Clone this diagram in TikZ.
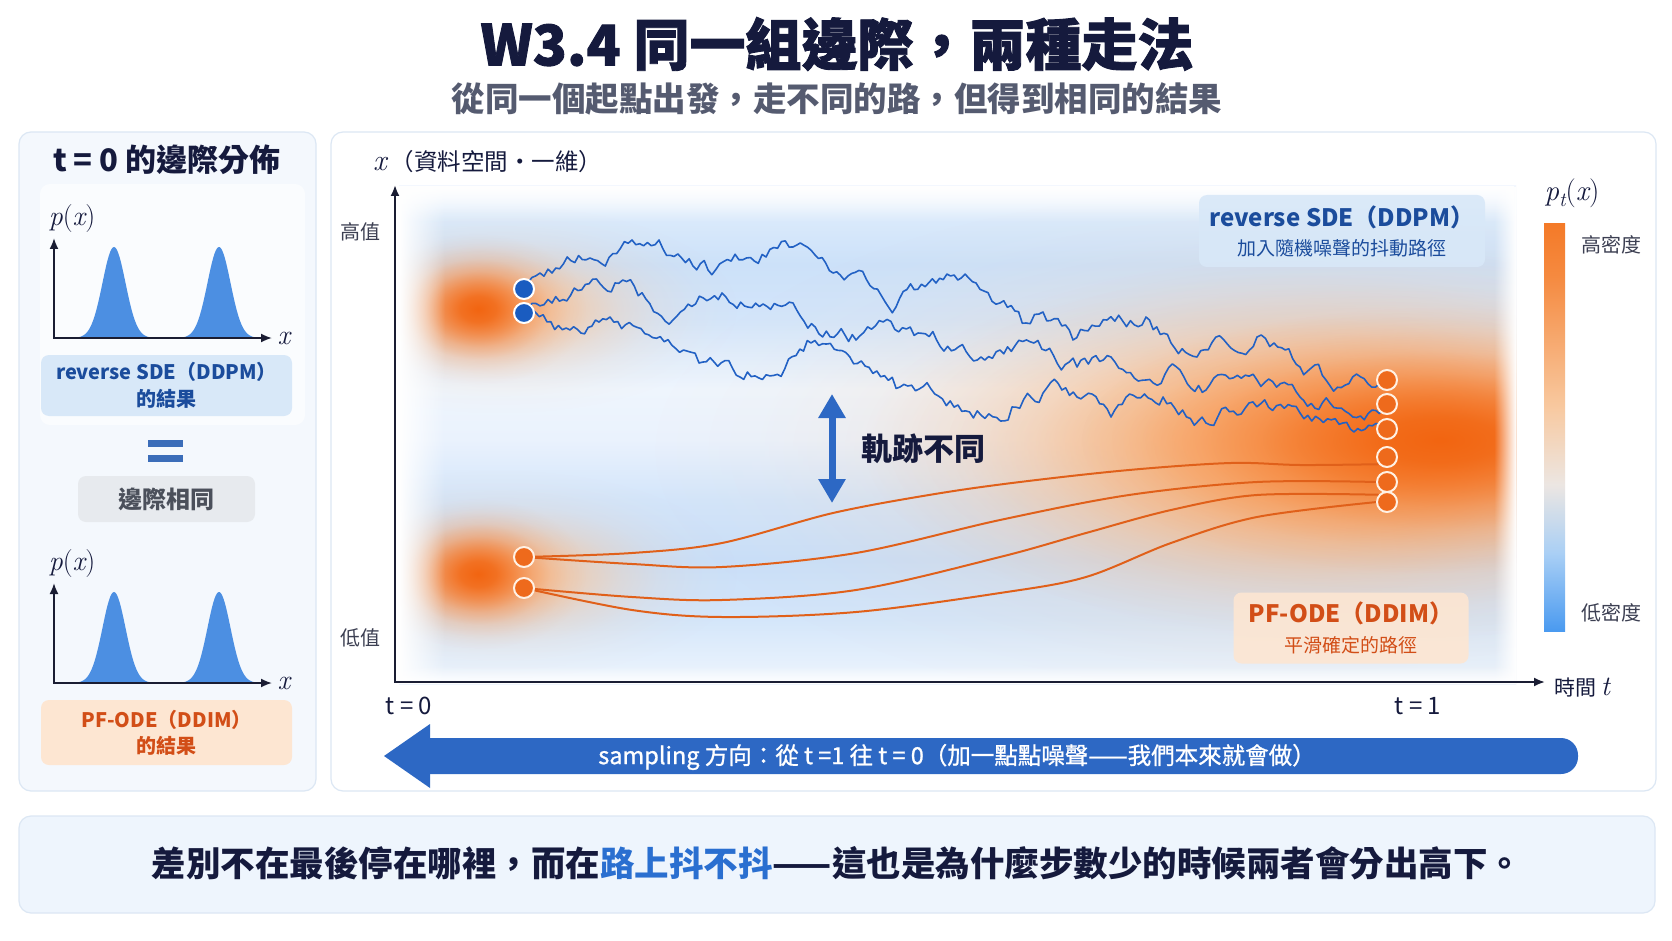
\RequirePackage{fix-cm}
\documentclass[tikz,border=0pt]{standalone}
\usepackage{fontspec}
\setmainfont{Noto Sans CJK TC}
\newfontfamily\lmr{Latin Modern Roman}
\newfontfamily\heavyfont{Noto Sans CJK TC}[BoldFeatures={FakeBold=1.6}]
\newfontfamily\medfont{Noto Sans CJK TC}[FakeBold=1]
\usetikzlibrary{arrows.meta,fadings}

\definecolor{navy}{HTML}{151A3D}
\definecolor{subgray}{HTML}{555B70}
\definecolor{sdeblue}{HTML}{2261C4}
\definecolor{odeor}{HTML}{E0601A}
\definecolor{dotblue}{HTML}{1A5CC0}
\definecolor{dotor}{HTML}{EE6A1C}
\definecolor{dotring}{HTML}{FFF1E4}
\definecolor{lblbluefill}{HTML}{D8E8F8}
\definecolor{lblbluetext}{HTML}{1B4C9C}
\definecolor{lblorfill}{HTML}{FDE6D2}
\definecolor{lblortext}{HTML}{D24E17}
\definecolor{panelfill}{HTML}{F4F8FD}
\definecolor{panelline}{HTML}{DCE7F4}
\definecolor{peakblue}{HTML}{4C8FE2}
\definecolor{arrowblue}{HTML}{2D68C4}
\definecolor{eqblue}{HTML}{3B6DB9}
\definecolor{grayfill}{HTML}{E7EAEE}
\definecolor{graytext}{HTML}{4B505B}
\definecolor{axiscol}{HTML}{1A1D33}
\definecolor{hlblue}{HTML}{2A6FD0}
\definecolor{botfill}{HTML}{EEF5FD}
\definecolor{pch}{HTML}{FBC699}
\definecolor{orm}{HTML}{F89B55}
\definecolor{orc}{HTML}{F26511}
% heat background
\definecolor{hb0}{HTML}{EEF5FD}
\definecolor{hb1}{HTML}{D4E6FA}
\definecolor{hb2}{HTML}{C9DFF9}
\definecolor{hb3}{HTML}{D3E5FA}
\definecolor{hb4}{HTML}{EAF2FD}
\definecolor{hb5}{HTML}{EEF5FD}
\definecolor{hb6}{HTML}{D3E5FA}
\definecolor{hb7}{HTML}{CCE1F9}
\definecolor{hb8}{HTML}{DCEBFB}
\definecolor{hb9}{HTML}{F2F7FE}
% colorbar
\definecolor{cb0}{HTML}{4A9AF0}
\definecolor{cb1}{HTML}{A9CFF5}
\definecolor{cb2}{HTML}{ECE6E2}
\definecolor{cb3}{HTML}{F8C9A0}
\definecolor{cb4}{HTML}{F58A40}
\definecolor{cb5}{HTML}{F47A28}

\pgfdeclareverticalshading{heatbg}{100bp}{color(0bp)=(hb0); color(25bp)=(hb0); color(31.5bp)=(hb1); color(37.5bp)=(hb2); color(43.5bp)=(hb3); color(49.6bp)=(hb4); color(54.6bp)=(hb5); color(61.7bp)=(hb6); color(67.2bp)=(hb7); color(72.3bp)=(hb8); color(75bp)=(hb9); color(100bp)=(hb9)}
\pgfdeclareverticalshading{cbar}{100bp}{color(0bp)=(cb0); color(25bp)=(cb0); color(34.5bp)=(cb1); color(43bp)=(cb2); color(52.5bp)=(cb3); color(68.5bp)=(cb4); color(75bp)=(cb5); color(100bp)=(cb5)}
\pgfdeclareradialshading{glowsh}{\pgfpointorigin}{color(0bp)=(white); color(3bp)=(white!88!black); color(6bp)=(white!61!black); color(9bp)=(white!32!black); color(12bp)=(white!13!black); color(15bp)=(white!4!black); color(18bp)=(black); color(50bp)=(black)}
\pgfdeclarefading{glow}{\pgfuseshading{glowsh}}
\tikzfading[name=fadeR, left color=transparent!0, right color=transparent!100]
\tikzfading[name=fadeL, right color=transparent!0, left color=transparent!100]
\tikzfading[name=fadeD, top color=transparent!0, bottom color=transparent!100]
\tikzfading[name=fadeU, bottom color=transparent!0, top color=transparent!100]

\makeatletter
\newcommand\mkwalk[3]{%
  \pgfmathsetseed{#2}%
  \global\let\wk@list\@empty
  \gdef\wk@first{1}%
  \foreach \xa/\ya in {#3}{%
    \if1\wk@first
      \xdef\wk@x{\xa}\xdef\wk@y{\ya}%
      \xdef\wk@list{(\xa,\ya)}%
      \gdef\wk@first{0}%
    \else
      \pgfmathtruncatemacro\wk@n{max(1,round((\xa-\wk@x)/3.8))}%
      \pgfmathsetmacro\wk@dx{(\xa-\wk@x)/\wk@n}%
      \xdef\wk@ty{\ya}\xdef\wk@N{\wk@n}\xdef\wk@DX{\wk@dx}%
      \foreach \k in {1,...,\wk@N}{%
        \pgfmathsetmacro\wk@nx{\wk@x+\wk@DX}%
        \pgfmathsetmacro\wk@ny{\wk@y+(\wk@ty-\wk@y)/(\wk@N-\k+1)+(\k<\wk@N)*rand*6.5}%
        \xdef\wk@x{\wk@nx}\xdef\wk@y{\wk@ny}%
        \xdef\wk@list{\wk@list (\wk@x,\wk@y)}%
      }%
    \fi
  }%
  \global\let#1\wk@list
}
\makeatother
\newcommand\mi[1]{{\lmr\itshape #1}}

\begin{document}
\begin{tikzpicture}[x=1pt,y=-1pt,
  every node/.style={inner sep=0pt},
  panel/.style={draw=panelline, line width=1.2, fill=panelfill, rounded corners=12},
  mainpanel/.style={draw=panelline, line width=1.2, fill=white, rounded corners=12},
  axisline/.style={draw=axiscol, line width=1.8},
  axtips/.style={{Latex[length=11pt,width=9pt]}-{Latex[length=11pt,width=9pt]}},
  mathlbl/.style={font=\fontsize{28}{30}\selectfont\lmr, text=navy},
  smalllbl/.style={font=\fontsize{20}{24}\selectfont, text=axiscol!85},
  lblblue/.style={fill=lblbluefill, text=lblbluetext, rounded corners=8, align=center},
  lblor/.style={fill=lblorfill, text=lblortext, rounded corners=8, align=center},
  sde/.style={draw=sdeblue, line width=1.6, line join=round},
  ode/.style={draw=odeor, line width=2, line cap=round},
  dotpos/.style={circle, minimum size=20},
  glowfill/.style={path fading=glow}
]
\useasboundingbox[fill=white] (0,0) rectangle (1672,941);

% ---------- title ----------
\node[font=\fontsize{56}{60}\selectfont\heavyfont\bfseries, text=navy] (title) at (837,44) {W3.4 同一組邊際，兩種走法};
\node[font=\fontsize{33.5}{38}\selectfont\bfseries, text=subgray] (subtitle) at (837,99) {從同一個起點出發，走不同的路，但得到相同的結果};

% ---------- left panel ----------
\path[panel] (19,132) rectangle (316,791);
\fill[white, opacity=0.6, rounded corners=10] (40,184) rectangle (305,425);
\node[font=\fontsize{31}{34}\selectfont\bfseries, text=navy] (ltitle) at (167,160) {t = 0 的邊際分佈};

% plot 1
\fill[peakblue] (56,338) -- plot[domain=56:266,samples=160] (\x,{338-91*exp(-0.5*((\x-114)/11.5)^2)-91*exp(-0.5*((\x-219)/11.5)^2)}) -- (266,338) -- cycle;
\coordinate (a1o) at (54,338); \coordinate (a1y) at (54,238); \coordinate (a1x) at (272,338);
\draw[axisline, axtips] (a1y) -- (a1o) -- (a1x);
\node[mathlbl] (p1) at (72,219) {\mi{p}(\mi{x})};
\node[mathlbl] (x1) at (284,338) {\mi{x}};
\node[lblblue, minimum width=251, minimum height=61, font=\fontsize{20}{27}\selectfont\bfseries] (lsde) at (166.5,385.5) {reverse SDE（DDPM）\\的結果};

% equals
\fill[eqblue] (148,440) rectangle (183,446.5);
\fill[eqblue] (148,455) rectangle (183,461.5);
\node[fill=grayfill, rounded corners=8, minimum width=177, minimum height=46, font=\fontsize{24}{28}\selectfont\bfseries, text=graytext] (same) at (166.5,499) {邊際相同};

% plot 2
\fill[peakblue] (56,683) -- plot[domain=56:266,samples=160] (\x,{683-91*exp(-0.5*((\x-114)/11.5)^2)-91*exp(-0.5*((\x-219)/11.5)^2)}) -- (266,683) -- cycle;
\coordinate (a2o) at (54,683); \coordinate (a2y) at (54,583); \coordinate (a2x) at (272,683);
\draw[axisline, axtips] (a2y) -- (a2o) -- (a2x);
\node[mathlbl] (p2) at (72,564) {\mi{p}(\mi{x})};
\node[mathlbl] (x2) at (284,683) {\mi{x}};
\node[lblor, minimum width=251, minimum height=65, font=\fontsize{20}{26}\selectfont\bfseries] (lode) at (166.5,732.5) {PF-ODE（DDIM）\\的結果};

% ---------- main panel ----------
\path[mainpanel] (331,132) rectangle (1656,791);

\begin{scope}
  \clip (399,186) rectangle (1516,684);
  \shade[shading=heatbg] (399,186) rectangle (1516,684);
  % right glows
  \fill[pch, glowfill] (1300,450) ellipse (900 and 370);
  \fill[orm, glowfill] (1380,445) ellipse (720 and 270);
  \fill[orc, glowfill] (1440,440) ellipse (500 and 185);
  % left glows
  \fill[pch, glowfill] (500,309) ellipse (330 and 145);
  \fill[orc, glowfill] (478,309) ellipse (150 and 105);
  \fill[pch, glowfill] (500,574) ellipse (330 and 145);
  \fill[orc, glowfill] (478,574) ellipse (150 and 105);
  % soft edges
  \fill[white, path fading=fadeR] (399,186) rectangle (445,684);
  \fill[white, path fading=fadeD] (399,186) rectangle (1516,222);
  \fill[white, path fading=fadeL] (1494,186) rectangle (1516,684);
  \fill[white, path fading=fadeU] (399,666) rectangle (1516,684);
\end{scope}

% labels in plot
\node[lblblue, fill opacity=0.9, text opacity=1, minimum width=286, minimum height=72, font=\fontsize{19}{29}\selectfont] (sdel) at (1342,231) {{\fontsize{24}{29}\selectfont\bfseries reverse SDE（DDPM）}\\加入隨機噪聲的抖動路徑};
\node[lblor, fill opacity=0.9, text opacity=1, minimum width=235, minimum height=71, font=\fontsize{19}{30}\selectfont] (odel) at (1351,628) {{\fontsize{24}{30}\selectfont\bfseries PF-ODE（DDIM）}\\平滑確定的路徑};

% dot positions
\node[dotpos] (s1) at (524,289) {};
\node[dotpos] (s2) at (524,313) {};
\node[dotpos] (o1) at (524,557) {};
\node[dotpos] (o2) at (524,588) {};
\node[dotpos] (e1) at (1387,380) {};
\node[dotpos] (e2) at (1387,404) {};
\node[dotpos] (e3) at (1387,429) {};
\node[dotpos] (e4) at (1387,457) {};
\node[dotpos] (e5) at (1387,482) {};
\node[dotpos] (e6) at (1387,502) {};

% SDE paths
\mkwalk{\walkA}{101}{524/289,552/273,590/258,632/240,659/240,708/270,766/257,793/247,833/273,896/307,936/283,976/283,1000/303,1026/323,1043/312,1073/340,1107/320,1146/317,1171/343,1197/357,1257/337,1274/343,1300/367,1326/380,1387/380}
\mkwalk{\walkB}{202}{524/313,552/303,615/283,673/320,722/293,793/303,856/340,918/333,981/357,1000/350,1034/343,1077/367,1111/357,1146/380,1180/370,1206/390,1257/380,1300/397,1330/403,1387/404}
\mkwalk{\walkC}{303}{524/313,570/330,610/317,699/363,740/377,811/343,900/387,1012/407,1043/393,1077/397,1111/417,1163/397,1206/423,1249/403,1300/413,1343/423,1387/429}
\edef\drawwalks{\noexpand\draw[sde] plot coordinates {\walkA}; \noexpand\draw[sde] plot coordinates {\walkB}; \noexpand\draw[sde] plot coordinates {\walkC};}
\drawwalks

% ODE paths
\draw[ode] plot[smooth, tension=0.55] coordinates {(o1.center) (632,553) (722,543) (833,513) (935,494) (1020,482) (1129,470) (1231,463) (1300,465) (e4.south west)};
\draw[ode] plot[smooth, tension=0.55] coordinates {(o1.center) (632,564) (722,567) (856,553) (1000,520) (1129,495) (1257,482) (e5.west)};
\draw[ode] plot[smooth, tension=0.55] coordinates {(o2.center) (632,597) (722,600) (856,590) (1000,557) (1086,533) (1171,510) (1257,495) (e6.north west)};
\draw[ode] plot[smooth, tension=0.55] coordinates {(o2.center) (632,610) (722,617) (856,612) (1000,593) (1086,577) (1171,543) (1257,517) (e6.west)};

% dots on top
\foreach \n in {s1,s2}{
  \fill[dotblue] (\n.center) circle (9.6);
  \draw[white, line width=2] (\n.center) circle (10);
}
\foreach \n in {o1,o2,e1,e2,e3,e4,e5,e6}{
  \fill[dotor] (\n.center) circle (9.6);
  \draw[dotring, line width=2] (\n.center) circle (10);
}

% double arrow
\coordinate (dtop) at (832,394);
\coordinate (dbot) at (832,503);
\draw[arrowblue, line width=7, {Triangle[length=24pt,width=26pt]}-{Triangle[length=24pt,width=26pt]}] (dtop) -- (dbot);
\node[font=\fontsize{31}{34}\selectfont\bfseries, text=navy] (diff) at (923,449) {軌跡不同};

% axes
\coordinate (ox) at (395,682); \coordinate (oy) at (395,185); \coordinate (oxe) at (1545,682);
\draw[axisline, line width=2, axtips] (oy) -- (ox) -- (oxe);
\node[anchor=west, font=\fontsize{23.5}{26}\selectfont, text=navy] (xlab) at (373,162) {{\fontsize{30}{26}\selectfont\mi{x}}\,（資料空間・一維）};
\node[smalllbl] (hi) at (360,232) {高值};
\node[smalllbl] (lo) at (360,638) {低值};
\node[font=\fontsize{24}{28}\selectfont, text=navy] (t0) at (409,706) {t = 0};
\node[font=\fontsize{24}{28}\selectfont, text=navy] (t1) at (1418,706) {t = 1};
\node[anchor=west, font=\fontsize{21}{24}\selectfont, text=navy] (tlab) at (1554,688) {時間 {\fontsize{28}{24}\selectfont\mi{t}}};

% colorbar
\shade[shading=cbar] (1544,224) rectangle (1565,631);
\node[font=\fontsize{29}{30}\selectfont\lmr, text=navy] (ptx) at (1572,193) {\mi{p}\raisebox{-0.22em}{\fontsize{20}{20}\selectfont\mi{t}}(\mi{x})};
\node[smalllbl] (hd) at (1611,245) {高密度};
\node[smalllbl] (ld) at (1611,613) {低密度};

% sampling arrow
\fill[arrowblue, rounded corners=17] (405,738) rectangle (1578,774);
\fill[arrowblue] (384,756) -- (430,724) -- (430,788) -- cycle;
\node[font=\fontsize{23.5}{26}\selectfont\medfont, text=white] (samp) at (957,757) {sampling 方向：從 t =1 往 t = 0（加一點點噪聲——我們本來就會做）};

% bottom box
\path[draw=panelline, line width=1.2, fill=botfill, rounded corners=12] (19,816) rectangle (1655,913);
\node[font=\fontsize{34.5}{40}\selectfont\bfseries, text=navy] (concl) at (837,863) {差別不在最後停在哪裡，而在\textcolor{hlblue}{路上抖不抖}——這也是為什麼步數少的時候兩者會分出高下。};
\end{tikzpicture}
\end{document}
